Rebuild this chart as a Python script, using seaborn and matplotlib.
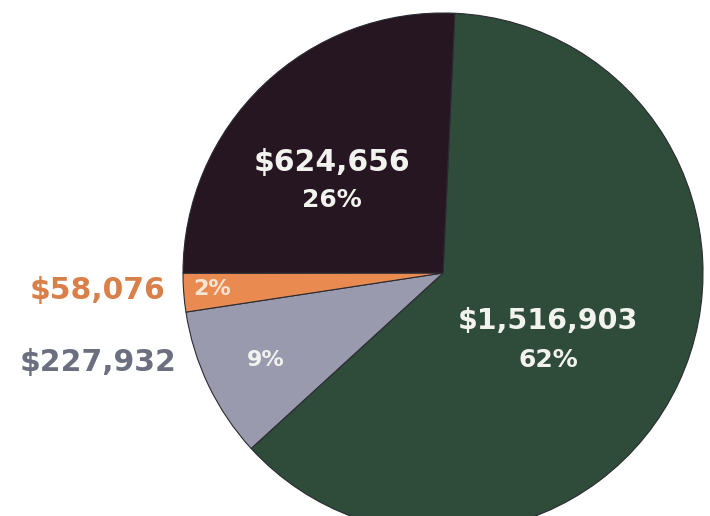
import matplotlib.pyplot as plt
import seaborn as sns

# values (clockwise from the top)
labels = ["$1,516,903", "$227,932", "$58,076", "$624,656"]
values = [1516903, 227932, 58076, 624656]
percents = ["62%", "9%", "2%", "26%"]
colors = ["#2f4b39", "#9a9aae", "#e98b50", "#261621"]

sns.set_theme(style="white")
plt.rcParams["font.family"] = ["DejaVu Sans"]

W, H = 710, 516
fig = plt.figure(figsize=(7.1, 5.16), dpi=100)
ax = fig.add_axes([0, 0, 1, 1])

cx, cy, r = 443, H - 273, 260
ax.pie(values, colors=colors, startangle=87.4, counterclock=False,
       center=(cx, cy), radius=r, frame=True,
       wedgeprops=dict(edgecolor="#2a2a33", linewidth=0.8))
ax.set_xlim(0, W)
ax.set_ylim(0, H)
ax.set_aspect("equal")
ax.axis("off")

white = "#f2f2ee"
font = dict(fontweight="bold", ha="center", va="center")

# green slice
ax.text(548, H - 321, labels[0], color=white, fontsize=20.5, **font)
ax.text(548, H - 360, percents[0], color=white, fontsize=18, **font)
# dark slice
ax.text(332, H - 163, labels[3], color=white, fontsize=21.5, **font)
ax.text(332, H - 200, percents[3], color=white, fontsize=18, **font)
# gray slice
ax.text(98, H - 363, labels[1], color="#6c6f80", fontsize=21.5, **font)
ax.text(266, H - 360, percents[1], color=white, fontsize=16, **font)
# orange slice
ax.text(98, H - 290, labels[2], color="#d9804a", fontsize=21.5, **font)
ax.text(212, H - 289, percents[2], color="#f6e6d8", fontsize=16, **font)

fig.savefig("out.png", dpi=100)
